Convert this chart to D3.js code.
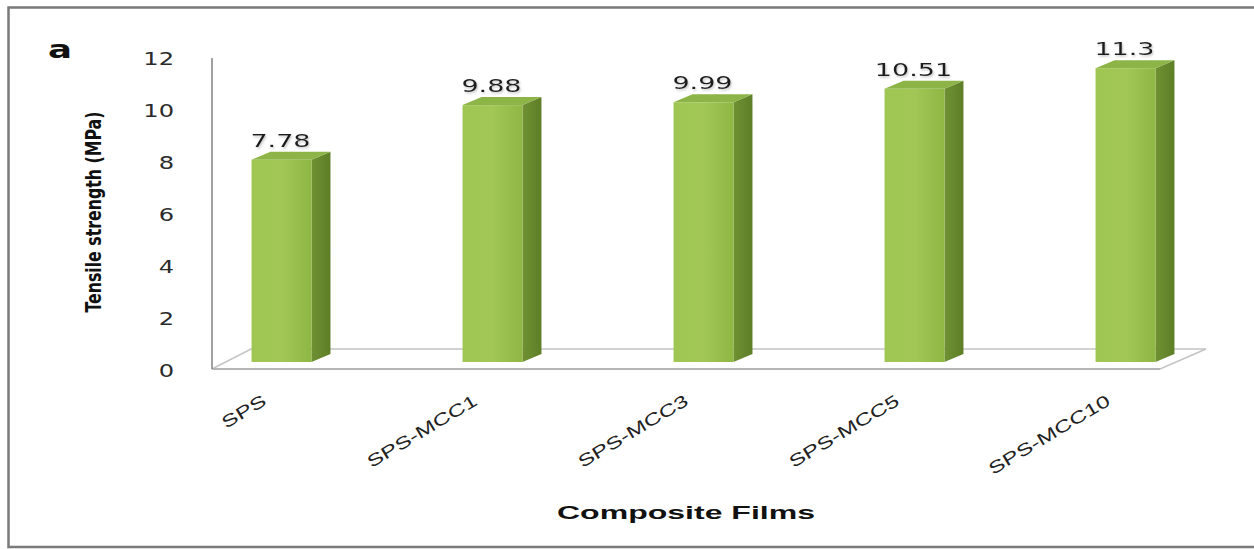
<!DOCTYPE html>
<html>
<head>
<meta charset="utf-8">
<script src="https://cdn.jsdelivr.net/npm/d3@7"></script>
<style>
  html, body { margin: 0; padding: 0; background: #ffffff; }
  svg { display: block; }
</style>
</head>
<body>
<svg id="chart" width="1254" height="549"></svg>
<script>
const categories = ["SPS", "SPS-MCC1", "SPS-MCC3", "SPS-MCC5", "SPS-MCC10"];
const tensileStrength = [7.78, 9.88, 9.99, 10.51, 11.3];
const valueLabels = ["7.78", "9.88", "9.99", "10.51", "11.3"];
const yTicks = [0, 2, 4, 6, 8, 10, 12];

const svg = d3.select("#chart");
const W = 1254, H = 549;

// outer frame
svg.append("rect").attr("x", 0).attr("y", 0).attr("width", W).attr("height", H).attr("fill", "#ffffff");
svg.append("path")
  .attr("d", "M1256,7.5 H8.5 V547 H1256")
  .attr("fill", "none").attr("stroke", "#7a7a7a").attr("stroke-width", 2.5);

// gradients
const defs = svg.append("defs");
const gFront = defs.append("linearGradient").attr("id", "front").attr("x1", "0").attr("x2", "1").attr("y1", "0").attr("y2", "0");
gFront.append("stop").attr("offset", "0%").attr("stop-color", "#9fc552");
gFront.append("stop").attr("offset", "50%").attr("stop-color", "#a2c756");
gFront.append("stop").attr("offset", "100%").attr("stop-color", "#8fb744");
const gSide = defs.append("linearGradient").attr("id", "side").attr("x1", "0").attr("x2", "1").attr("y1", "0").attr("y2", "0");
gSide.append("stop").attr("offset", "0%").attr("stop-color", "#6f9133");
gSide.append("stop").attr("offset", "100%").attr("stop-color", "#5e7e27");
const shadow = defs.append("filter").attr("id", "shadow").attr("x", "-10%").attr("y", "-20%").attr("width", "130%").attr("height", "150%");
shadow.append("feDropShadow").attr("dx", 1).attr("dy", 1.5).attr("stdDeviation", 1.2).attr("flood-color", "#999").attr("flood-opacity", 0.6);

function stretch(sel, factor) {
  sel.each(function() {
    const w = this.getComputedTextLength();
    d3.select(this).attr("textLength", w * factor).attr("lengthAdjust", "spacingAndGlyphs");
  });
}

// scales
const y = d3.scaleLinear().domain([0, 12]).range([369, 57]);
const x = d3.scaleBand().domain(categories).range([176, 1231]).paddingInner(0.716).paddingOuter(0.358);

const depthX = 19, depthY = 8, lift = 7;

// floor
const floorFrontL = 212, floorFrontR = 1160, floorBackL = 251, floorBackR = 1206;
const y0 = y(0);
svg.append("path")
  .attr("d", `M${floorFrontL},${y0} L${floorBackL},${y0 - 20} L${floorBackR},${y0 - 20} L${floorFrontR},${y0} Z`)
  .attr("fill", "#ffffff").attr("stroke", "#c4c4c4").attr("stroke-width", 1.6);
svg.append("line")
  .attr("x1", floorFrontL).attr("x2", floorFrontR).attr("y1", y0).attr("y2", y0)
  .attr("stroke", "#b5b5b5").attr("stroke-width", 2);

// vertical axis line
svg.append("line")
  .attr("x1", 212).attr("x2", 212).attr("y1", y(12) + 1).attr("y2", y0)
  .attr("stroke", "#8a8a8a").attr("stroke-width", 1.6);

// y tick labels
const yAxis = d3.axisLeft(y).tickValues(yTicks).tickSize(0).tickPadding(0);
const gy = svg.append("g").attr("transform", "translate(174,2)").call(yAxis);
gy.select(".domain").remove();
gy.selectAll("text")
  .attr("font-family", "DejaVu Sans").attr("font-size", 17).attr("fill", "#2a2a2a");
stretch(gy.selectAll("text"), 1.42);

// bars
const bars = svg.append("g").selectAll("g").data(categories).join("g");
bars.each(function(c, i) {
  const g = d3.select(this);
  const x0 = x(c), x1 = x(c) + x.bandwidth();
  const top = y(tensileStrength[i]) - lift;
  const bot = y(0) - lift;
  g.append("path")
    .attr("d", `M${x1},${bot} L${x1 + depthX},${bot - depthY} L${x1 + depthX},${top - depthY} L${x1},${top} Z`)
    .attr("fill", "url(#side)");
  g.append("path")
    .attr("d", `M${x0},${top} L${x0 + depthX},${top - depthY} L${x1 + depthX},${top - depthY} L${x1},${top} Z`)
    .attr("fill", "#8db447");
  g.append("rect")
    .attr("x", x0).attr("y", top).attr("width", x.bandwidth()).attr("height", bot - top)
    .attr("fill", "url(#front)");
});

// value labels
const vl = svg.append("g").selectAll("text").data(categories).join("text")
  .attr("x", c => x(c) + x.bandwidth() / 2 - 1)
  .attr("y", (c, i) => y(tensileStrength[i]) - 20)
  .attr("text-anchor", "middle")
  .attr("font-family", "DejaVu Sans").attr("font-size", 18).attr("fill", "#1e1e1e")
  .attr("filter", "url(#shadow)")
  .text((c, i) => valueLabels[i]);
stretch(vl, 1.5);

// x category labels
const xl = svg.append("g").selectAll("text").data(categories).join("text")
  .attr("transform", c => `translate(${x(c) + x.bandwidth() / 2 - 14},404) rotate(-31)`)
  .attr("text-anchor", "end")
  .attr("font-family", "Liberation Sans").attr("font-size", 17).attr("fill", "#222")
  .text(c => c);
stretch(xl, 1.42);

// y axis title
svg.append("text")
  .attr("transform", "translate(101,212) rotate(-90)")
  .attr("text-anchor", "middle")
  .attr("font-family", "Liberation Sans Narrow, DejaVu Sans Condensed, sans-serif")
  .attr("font-weight", "bold")
  .attr("font-size", 21).attr("fill", "#111")
  .attr("textLength", 201).attr("lengthAdjust", "spacingAndGlyphs")
  .text("Tensile strength (MPa)");

// x axis title
svg.append("text")
  .attr("x", 686).attr("y", 519)
  .attr("text-anchor", "middle")
  .attr("font-family", "Liberation Sans").attr("font-weight", "bold")
  .attr("font-size", 18).attr("fill", "#111")
  .attr("textLength", 258).attr("lengthAdjust", "spacingAndGlyphs")
  .text("Composite Films");

// panel letter
svg.append("text")
  .attr("x", 60).attr("y", 58)
  .attr("text-anchor", "middle")
  .attr("font-family", "DejaVu Sans").attr("font-weight", "bold")
  .attr("font-size", 24).attr("fill", "#111")
  .attr("textLength", 24).attr("lengthAdjust", "spacingAndGlyphs")
  .text("a");
</script>
</body>
</html>
